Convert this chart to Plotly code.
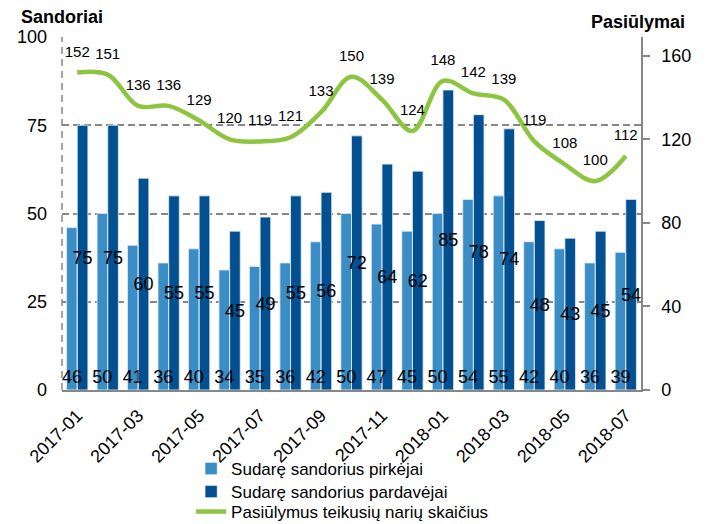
import plotly.graph_objects as go

months = ["2017-01", "2017-02", "2017-03", "2017-04", "2017-05", "2017-06", "2017-07",
          "2017-08", "2017-09", "2017-10", "2017-11", "2017-12", "2018-01", "2018-02",
          "2018-03", "2018-04", "2018-05", "2018-06", "2018-07"]
buyers = [46, 50, 41, 36, 40, 34, 35, 36, 42, 50, 47, 45, 50, 54, 55, 42, 40, 36, 39]
sellers = [75, 75, 60, 55, 55, 45, 49, 55, 56, 72, 64, 62, 85, 78, 74, 48, 43, 45, 54]
offers = [152, 151, 136, 136, 129, 120, 119, 121, 133, 150, 139, 124, 148, 142, 139, 119, 108, 100, 112]

left_ticks = [0, 25, 50, 75, 100]
right_ticks = [0, 40, 80, 120, 160]
x_ticks = months[::2]

names = ["Sudarę sandorius pirkėjai", "Sudarę sandorius pardavėjai",
         "Pasiūlymus teikusių narių skaičius"]

FONT = "Liberation Sans, Arial, sans-serif"
LIGHT = "#3B8DC6"
DARK = "#02508F"
GREEN = "#8DC440"
GRID = "#868686"
BW = 0.35  # bar width in category units

fig = go.Figure()
# bars (no text)
fig.add_trace(go.Bar(
    x=months, y=buyers, name=names[0], marker_color=LIGHT,
    offset=-BW, width=BW, legend="legend",
))
fig.add_trace(go.Bar(
    x=months, y=sellers, name=names[1], marker_color=DARK,
    offset=0, width=BW, legend="legend2",
))
# labels drawn on top of both bar series
fig.add_trace(go.Bar(
    x=months, y=buyers, showlegend=False, marker_color="rgba(0,0,0,0)",
    offset=-BW, width=BW, hoverinfo="skip",
    text=buyers, textposition="inside", insidetextanchor="start",
    constraintext="none", textangle=0,
    textfont=dict(size=18, color="black", family=FONT),
))
fig.add_trace(go.Bar(
    x=months, y=sellers, showlegend=False, marker_color="rgba(0,0,0,0)",
    offset=0, width=BW, hoverinfo="skip",
    text=sellers, textposition="inside", insidetextanchor="middle",
    constraintext="none", textangle=0,
    textfont=dict(size=18, color="black", family=FONT),
))
fig.add_trace(go.Scatter(
    x=months, y=offers, name=names[2], yaxis="y2", mode="lines", legend="legend3",
    line=dict(color=GREEN, width=4.5, shape="spline", smoothing=1.0),
))
fig.add_trace(go.Scatter(
    x=months, y=offers, yaxis="y2", mode="markers+text", showlegend=False,
    marker=dict(size=18, color="rgba(0,0,0,0)"),
    text=offers, textposition="top center",
    textfont=dict(size=15, color="black", family=FONT),
    hoverinfo="skip", cliponaxis=False,
))

legend_common = dict(orientation="v", x=0.223, xanchor="left", yanchor="middle",
                     font=dict(size=17), bgcolor="rgba(0,0,0,0)")

fig.update_layout(
    width=707, height=524,
    margin=dict(l=62, r=66, t=37, b=134, autoexpand=False),
    paper_bgcolor="white", plot_bgcolor="white",
    font=dict(family=FONT, color="black"),
    barmode="overlay",
    xaxis=dict(
        type="category", categoryorder="array", categoryarray=months,
        range=[-0.5, len(months) - 0.5],
        tickvals=x_ticks, ticktext=x_ticks, tickangle=-45,
        tickfont=dict(size=18), showline=True, linecolor=GRID, linewidth=2,
        showgrid=False, ticks="", automargin=False, ticklabelstandoff=6,
    ),
    yaxis=dict(
        range=[0, 100], tickvals=left_ticks, tickfont=dict(size=18),
        showgrid=True, gridcolor=GRID, gridwidth=1.5, griddash="7px,4px",
        zeroline=False, showline=False, ticks="", ticklabelstandoff=14,
        automargin=False,
    ),
    yaxis2=dict(
        range=[0, 169], tickvals=right_ticks, tickfont=dict(size=18),
        overlaying="y", side="right", showgrid=False, zeroline=False,
        showline=True, linecolor=GRID, linewidth=1.5,
        ticks="outside", ticklen=7, tickcolor=GRID, tickwidth=1.5,
        ticklabelstandoff=8, automargin=False,
    ),
    legend=dict(y=-0.2238, **legend_common),
    legend2=dict(y=-0.289, **legend_common),
    legend3=dict(y=-0.3456, **legend_common),
    shapes=[dict(type="line", xref="paper", yref="paper", x0=0, x1=0, y0=0, y1=1,
                 line=dict(color=GRID, width=1.5, dash="7px,5px"))],
    annotations=[
        dict(text="<b>Sandoriai</b>", xref="paper", yref="paper", x=-0.0743, y=1.057,
             xanchor="left", yanchor="middle", showarrow=False, font=dict(size=18)),
        dict(text="<b>Pasiūlymai</b>", xref="paper", yref="paper", x=1.0794, y=1.0425,
             xanchor="right", yanchor="middle", showarrow=False, font=dict(size=18)),
    ],
)

fig.write_html("out.html", config={"displayModeBar": False},
               post_script="document.body.style.margin='0';")
